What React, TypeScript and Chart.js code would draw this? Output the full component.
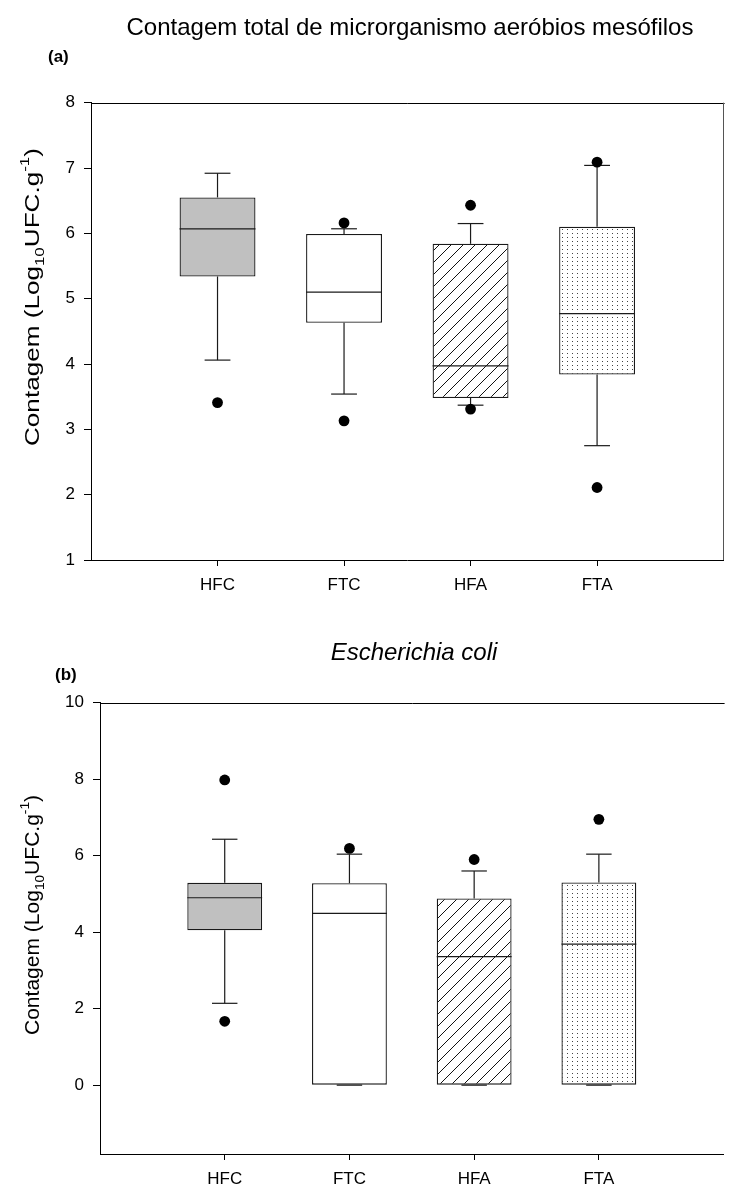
import React, { useEffect, useRef } from 'react';
import { Chart, registerables } from 'chart.js';

Chart.register(...registerables);

const FONT = '"Liberation Sans", Arial, Helvetica, sans-serif';

// ---------- shared ----------
const categories = ['HFC', 'FTC', 'HFA', 'FTA'];
const yLabelParts = [
  { text: 'Contagem (Log', kind: 'normal' },
  { text: '10', kind: 'sub' },
  { text: 'UFC.g', kind: 'normal' },
  { text: '-1', kind: 'sup' },
  { text: ')', kind: 'normal' },
];

// ---------- panel (a) ----------
const titleA = 'Contagem total de microrganismo aeróbios mesófilos';
const letterA = '(a)';
const aTicks = [1, 2, 3, 4, 5, 6, 7, 8];
const aLowerWhisker = [4.06, 3.54, 3.37, 2.75];
const aQ1 = [5.34, 4.63, 3.48, 3.84];
const aMedian = [6.07, 5.1, 3.97, 4.77];
const aQ3 = [6.55, 5.99, 5.84, 6.1];
const aUpperWhisker = [6.92, 6.07, 6.15, 7.04];
const aOutliers = [[3.41], [6.16, 3.13], [6.43, 3.31], [7.09, 2.11]];

// ---------- panel (b) ----------
const titleB = 'Escherichia coli';
const letterB = '(b)';
const bTicks = [0, 2, 4, 6, 8, 10];
const bLowerWhisker = [2.14, 0, 0, 0];
const bQ1 = [4.05, 0, 0, 0];
const bMedian = [4.9, 4.49, 3.36, 3.69];
const bQ3 = [5.29, 5.28, 4.88, 5.3];
const bUpperWhisker = [6.43, 6.04, 5.6, 6.04];
const bOutliers = [[7.98, 1.67], [6.19], [5.9], [6.95]];

type Panel = {
  title: string;
  titleItalic: boolean;
  titleSize: number;
  titleX: number;
  titleY: number;
  letter: string;
  letterX: number;
  letterY: number;
  ticks: number[];
  yMin: number;
  yMax: number;
  lo: number[];
  q1: number[];
  med: number[];
  q3: number[];
  hi: number[];
  outliers: number[][];
  height: number;
  axisWidth: number;
  xAxisHeight: number;
  padTop: number;
  padRight: number;
  rightBorder: boolean;
  yLabelCenter: number;
  yLabelLength: number;
};

const panelA: Panel = {
  title: titleA, titleItalic: false, titleSize: 24, titleX: 410, titleY: 35,
  letter: letterA, letterX: 48, letterY: 57,
  ticks: aTicks, yMin: 1, yMax: 8,
  lo: aLowerWhisker, q1: aQ1, med: aMedian, q3: aQ3, hi: aUpperWhisker, outliers: aOutliers,
  height: 600, axisWidth: 91, xAxisHeight: 40, padTop: 102.7, padRight: 1, rightBorder: true,
  yLabelCenter: 297, yLabelLength: 298,
};

const panelB: Panel = {
  title: titleB, titleItalic: true, titleSize: 24, titleX: 414, titleY: 60,
  letter: letterB, letterX: 55, letterY: 75,
  ticks: bTicks, yMin: -1.8, yMax: 10,
  lo: bLowerWhisker, q1: bQ1, med: bMedian, q3: bQ3, hi: bUpperWhisker, outliers: bOutliers,
  height: 591, axisWidth: 100, xAxisHeight: 37, padTop: 102.7, padRight: 0, rightBorder: false,
  yLabelCenter: 315, yLabelLength: 240,
};

function makeFills(ctx: CanvasRenderingContext2D) {
  const h = document.createElement('canvas');
  h.width = 12; h.height = 12;
  const g = h.getContext('2d')!;
  g.fillStyle = '#ffffff'; g.fillRect(0, 0, 12, 12);
  g.strokeStyle = '#111'; g.lineWidth = 1;
  g.beginPath();
  g.moveTo(-1, 13); g.lineTo(13, -1);
  g.moveTo(-1, 1); g.lineTo(1, -1);
  g.moveTo(11, 13); g.lineTo(13, 11);
  g.stroke();
  const hatch = ctx.createPattern(h, 'repeat');

  const d = document.createElement('canvas');
  d.width = 5; d.height = 4;
  const dg = d.getContext('2d')!;
  dg.fillStyle = '#ffffff'; dg.fillRect(0, 0, 5, 4);
  dg.fillStyle = '#444'; dg.fillRect(2, 1, 1, 1);
  const dots = ctx.createPattern(d, 'repeat');
  return ['#c0c0c0', '#ffffff', hatch, dots];
}

function drawYLabel(ctx: CanvasRenderingContext2D, cx: number, cy: number, length: number) {
  const big = `20px ${FONT}`;
  const small = `13px ${FONT}`;
  ctx.save();
  let total = 0;
  const widths = yLabelParts.map((p) => {
    ctx.font = p.kind === 'normal' ? big : small;
    const w = ctx.measureText(p.text).width;
    total += w;
    return w;
  });
  ctx.translate(cx, cy);
  ctx.rotate(-Math.PI / 2);
  ctx.scale(length / total, 1);
  ctx.fillStyle = '#000';
  ctx.textBaseline = 'alphabetic';
  ctx.textAlign = 'left';
  let x = -total / 2;
  yLabelParts.forEach((p, i) => {
    ctx.font = p.kind === 'normal' ? big : small;
    const dy = p.kind === 'sub' ? 5 : p.kind === 'sup' ? -10 : 0;
    ctx.fillText(p.text, x, dy);
    x += widths[i];
  });
  ctx.restore();
}

function makePlugin(p: Panel) {
  return {
    id: 'boxExtras',
    afterDatasetDraw(chart: any, args: any) {
      if (args.index !== 0) return;
      const ctx: CanvasRenderingContext2D = chart.ctx;
      const y = chart.scales.y;
      const meta = chart.getDatasetMeta(0);
      ctx.save();
      ctx.strokeStyle = '#1a1a1a';
      ctx.lineWidth = 1.2;
      const line = (x1: number, y1: number, x2: number, y2: number) => {
        ctx.beginPath(); ctx.moveTo(x1, y1); ctx.lineTo(x2, y2); ctx.stroke();
      };
      meta.data.forEach((bar: any, i: number) => {
        const { x, width } = bar.getProps(['x', 'width'], true);
        const cap = width * 0.17;
        const yLo = y.getPixelForValue(p.lo[i]);
        const yQ1 = y.getPixelForValue(p.q1[i]);
        const yMed = y.getPixelForValue(p.med[i]);
        const yQ3 = y.getPixelForValue(p.q3[i]);
        const yHi = y.getPixelForValue(p.hi[i]);
        if (yLo !== yQ1) line(x, yQ1, x, yLo);
        line(x - cap, yLo, x + cap, yLo);
        line(x, yQ3, x, yHi);
        line(x - cap, yHi, x + cap, yHi);
        line(x - width / 2, yMed, x + width / 2, yMed);
      });
      ctx.restore();
    },
    afterDraw(chart: any) {
      const ctx: CanvasRenderingContext2D = chart.ctx;
      const a = chart.chartArea;
      ctx.save();
      ctx.strokeStyle = '#000';
      ctx.lineWidth = 1;
      ctx.beginPath();
      ctx.moveTo(a.left, Math.round(a.top) + 0.5);
      ctx.lineTo(a.right + 1, Math.round(a.top) + 0.5);
      ctx.stroke();
      if (p.rightBorder) {
        ctx.strokeStyle = '#555';
        ctx.beginPath();
        ctx.moveTo(Math.round(a.right) - 0.5, a.top);
        ctx.lineTo(Math.round(a.right) - 0.5, a.bottom);
        ctx.stroke();
      }
      ctx.fillStyle = '#000';
      ctx.textAlign = 'center';
      ctx.textBaseline = 'alphabetic';
      ctx.font = `${p.titleItalic ? 'italic ' : ''}${p.titleSize}px ${FONT}`;
      ctx.fillText(p.title, p.titleX, p.titleY);
      ctx.textAlign = 'left';
      ctx.textBaseline = 'middle';
      ctx.font = `bold 17px ${FONT}`;
      ctx.fillText(p.letter, p.letterX, p.letterY);
      ctx.restore();
      drawYLabel(ctx, 39, p.yLabelCenter, p.yLabelLength);
    },
  };
}

function BoxPanel({ panel }: { panel: Panel }) {
  const ref = useRef<HTMLCanvasElement>(null);
  useEffect(() => {
    const canvas = ref.current!;
    const ctx = canvas.getContext('2d')!;
    const boxes = categories.map((_, i) => ({ x: i + 1, y: [panel.q1[i], panel.q3[i]] }));
    const outs = panel.outliers.flatMap((arr, i) => arr.map((v) => ({ x: i + 1, y: v })));
    const tickFont = { family: FONT, size: 17 };
    const chart = new Chart(ctx, {
      type: 'bar',
      data: {
        datasets: [
          {
            type: 'bar',
            data: boxes as any,
            backgroundColor: makeFills(ctx) as any,
            borderColor: '#1a1a1a',
            borderWidth: 1.3,
            borderSkipped: false,
            barPercentage: 0.6,
            categoryPercentage: 1,
            order: 2,
          } as any,
          {
            type: 'scatter',
            data: outs,
            pointRadius: 5.4,
            pointBackgroundColor: '#000',
            pointBorderWidth: 0,
            order: 1,
          } as any,
        ],
      },
      options: {
        responsive: false,
        animation: false,
        events: [],
        layout: { padding: { top: panel.padTop, right: panel.padRight, left: 0, bottom: 0 } },
        plugins: { legend: { display: false }, tooltip: { enabled: false }, title: { display: false } },
        scales: {
          x: {
            type: 'linear',
            min: 0,
            max: 5,
            offset: false,
            afterBuildTicks: (axis: any) => {
              axis.ticks = categories.map((_, i) => ({ value: i + 1 }));
            },
            afterFit: (axis: any) => {
              axis.height = panel.xAxisHeight;
            },
            ticks: {
              callback: (v: any) => categories[Number(v) - 1] ?? '',
              font: tickFont,
              color: '#000',
              padding: 9,
              maxRotation: 0,
              autoSkip: false,
            },
            grid: { display: true, offset: false, drawOnChartArea: false, drawTicks: true, tickLength: 6, color: '#000', lineWidth: 1 },
            border: { display: true, color: '#000', width: 1 },
          },
          y: {
            type: 'linear',
            min: panel.yMin,
            max: panel.yMax,
            afterBuildTicks: (axis: any) => {
              axis.ticks = panel.ticks.map((v) => ({ value: v }));
            },
            afterFit: (axis: any) => {
              axis.width = panel.axisWidth;
            },
            ticks: { font: tickFont, color: '#000', padding: 9, autoSkip: false },
            grid: { display: true, drawOnChartArea: false, drawTicks: true, tickLength: 7, color: '#000', lineWidth: 1 },
            border: { display: true, color: '#000', width: 1 },
          },
        },
      } as any,
      plugins: [makePlugin(panel)],
    });
    return () => chart.destroy();
  }, [panel]);
  return <canvas ref={ref} width={729} height={panel.height} style={{ display: 'block' }} />;
}

export default function App() {
  return (
    <div style={{ position: 'absolute', left: 0, top: 0, width: 729, height: 1191, background: '#fff' }}>
      <BoxPanel panel={panelA} />
      <BoxPanel panel={panelB} />
    </div>
  );
}
